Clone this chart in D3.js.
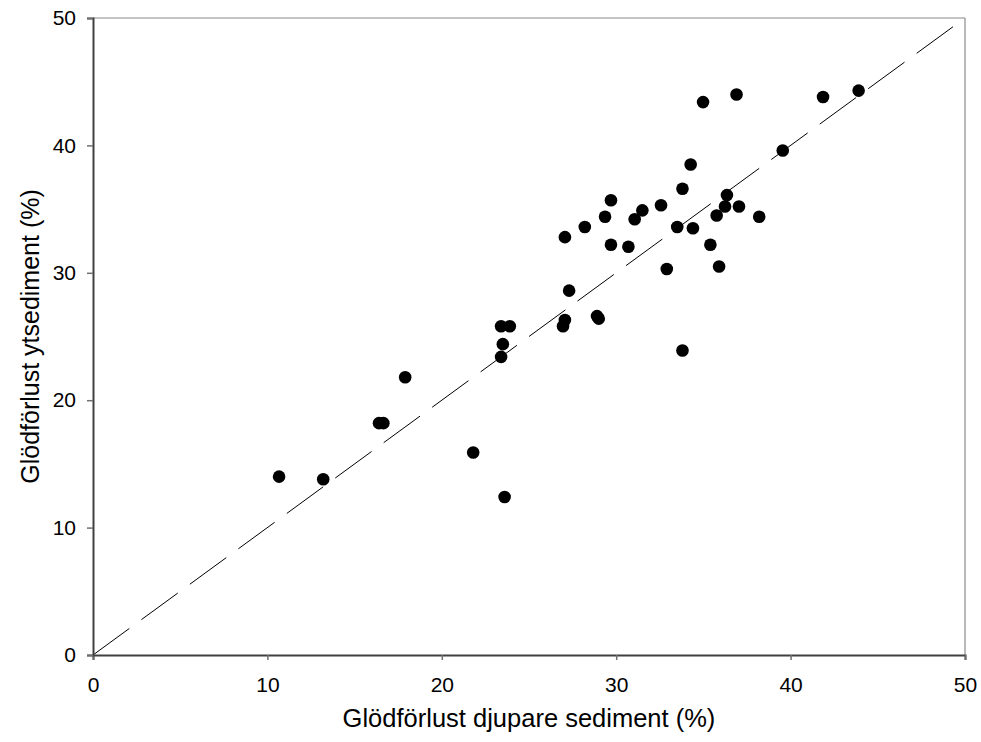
<!DOCTYPE html>
<html>
<head>
<meta charset="utf-8">
<script src="https://cdn.jsdelivr.net/npm/d3@7"></script>
<style>
  html, body { margin: 0; padding: 0; background: #fff; }
  svg { display: block; }
  text { font-family: "Liberation Sans", Arial, sans-serif; }
</style>
</head>
<body>
<svg id="chart" width="981" height="742"></svg>
<script>
// Data (x: deeper sediment LOI %, y: surface sediment LOI %)
const xValues = [10.67, 13.2, 16.4, 16.65, 17.9, 21.8, 23.6, 23.4, 23.5, 23.4, 23.9,
  26.95, 27.06, 27.3, 27.06, 28.2, 28.9, 29.0, 29.36, 29.7, 29.7, 30.7, 31.06, 31.5,
  32.57, 32.9, 33.5, 33.8, 33.8, 34.27, 34.4, 34.98, 35.4, 35.76, 35.9, 36.24, 36.35,
  36.9, 37.04, 38.2, 39.55, 41.86, 43.9];
const yValues = [14.0, 13.8, 18.2, 18.2, 21.8, 15.9, 12.4, 23.4, 24.4, 25.8, 25.8,
  25.8, 26.3, 28.6, 32.8, 33.6, 26.6, 26.4, 34.4, 35.7, 32.2, 32.05, 34.2, 34.9,
  35.3, 30.3, 33.6, 36.6, 23.9, 38.5, 33.5, 43.4, 32.2, 34.5, 30.5, 35.2, 36.1,
  44.0, 35.2, 34.4, 39.6, 43.8, 44.3];
const xTicks = [0, 10, 20, 30, 40, 50];
const yTicks = [0, 10, 20, 30, 40, 50];
const refLine = [0, 50];
const xTitle = "Glödförlust djupare sediment (%)";
const yTitle = "Glödförlust ytsediment (%)";

const svg = d3.select("#chart");
const L = 93, R = 965, T = 18, B = 655;

const x = d3.scaleLinear().domain([0, 50]).range([L, R]);
const y = d3.scaleLinear().domain([0, 50]).range([B, T]);

// frame top/right (light grey)
svg.append("line").attr("x1", L).attr("x2", R).attr("y1", T).attr("y2", T)
  .attr("stroke", "#8a8a8a").attr("stroke-width", 1.2);
svg.append("line").attr("x1", R).attr("x2", R).attr("y1", T).attr("y2", B)
  .attr("stroke", "#8a8a8a").attr("stroke-width", 1.2);

// reference 1:1 dashed line
svg.append("line")
  .attr("x1", x(refLine[0])).attr("y1", y(refLine[0]))
  .attr("x2", x(refLine[1])).attr("y2", y(refLine[1]))
  .attr("stroke", "#000").attr("stroke-width", 1)
  .attr("stroke-dasharray", "45,15");

// axes
const xAxis = d3.axisBottom(x).tickValues(xTicks).tickSize(5).tickPadding(17)
  .tickFormat(d3.format("d"));
const yAxis = d3.axisLeft(y).tickValues(yTicks).tickSize(6).tickPadding(11)
  .tickFormat(d3.format("d"));

const gx = svg.append("g").attr("transform", `translate(0,${B})`).call(xAxis);
const gy = svg.append("g").attr("transform", `translate(${L},0)`).call(yAxis);
[gx, gy].forEach(g => {
  g.select(".domain").attr("stroke", "#404040").attr("stroke-width", 2);
  g.selectAll(".tick line").attr("stroke", "#707070").attr("stroke-width", 1.5);
  g.selectAll(".tick text").attr("fill", "#000").attr("font-size", 21)
    .attr("font-family", "Liberation Sans, Arial, sans-serif");
});

// points
svg.append("g").selectAll("circle")
  .data(xValues.map((v, i) => [v, yValues[i]]))
  .join("circle")
  .attr("cx", d => x(d[0]))
  .attr("cy", d => y(d[1]))
  .attr("r", 6.3)
  .attr("fill", "#000");

// titles
svg.append("text")
  .attr("x", (L + R) / 2).attr("y", 727)
  .attr("text-anchor", "middle").attr("font-size", 25.5).attr("fill", "#000")
  .text(xTitle);
svg.append("text")
  .attr("transform", `translate(39,${(T + B) / 2}) rotate(-90)`)
  .attr("text-anchor", "middle").attr("font-size", 25).attr("fill", "#000")
  .text(yTitle);
</script>
</body>
</html>
